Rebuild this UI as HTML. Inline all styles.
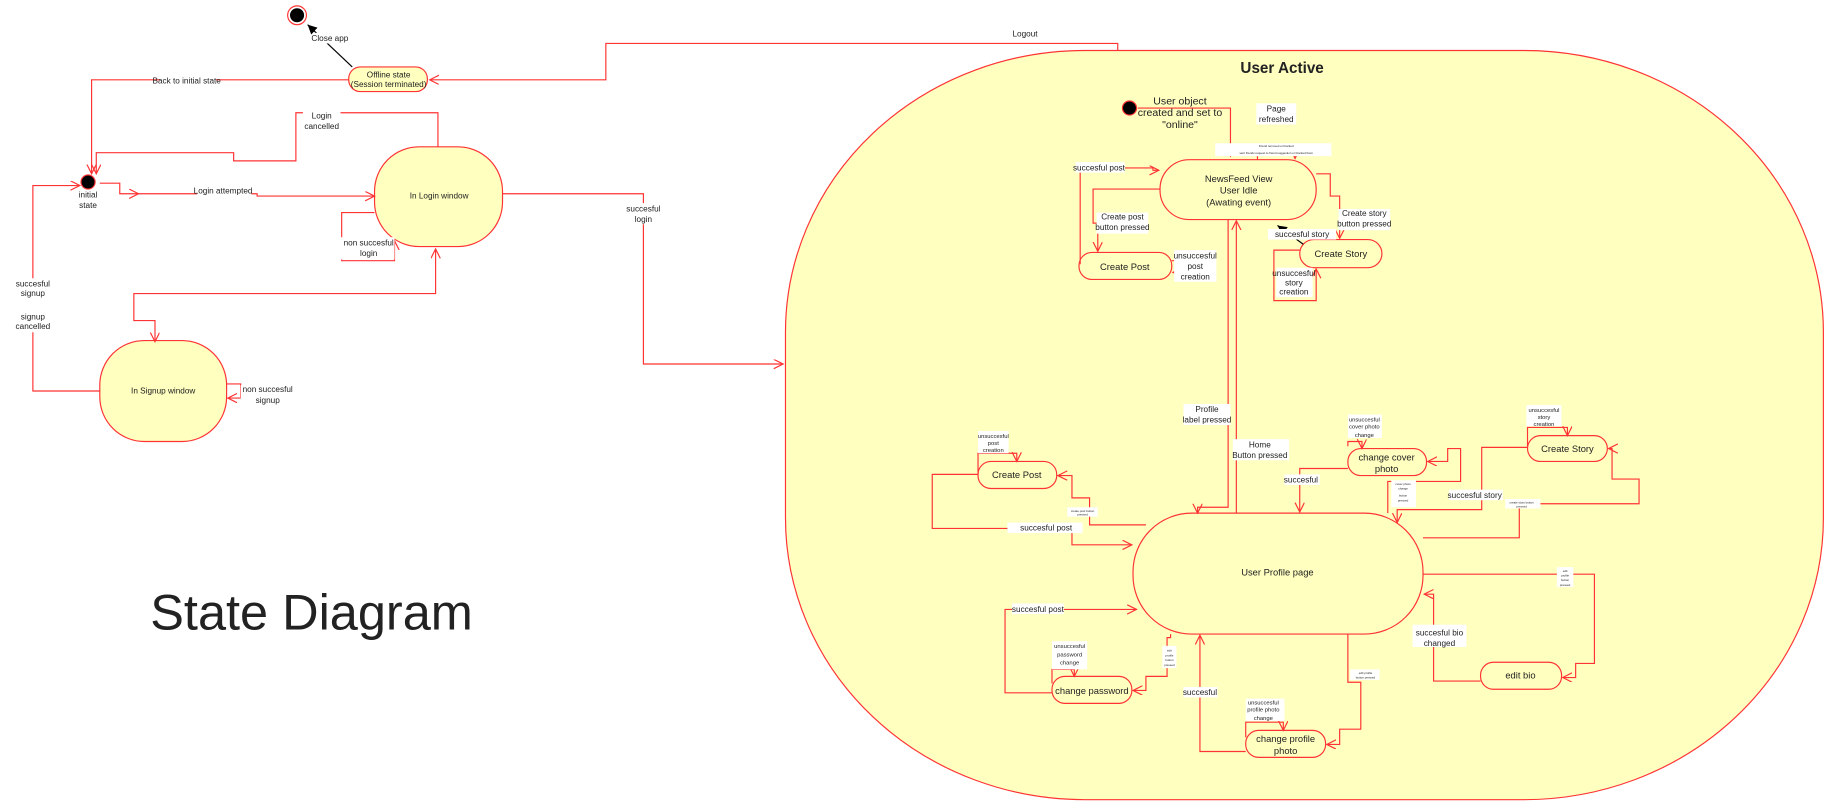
<!DOCTYPE html>
<html><head><meta charset="utf-8"><style>
html,body{margin:0;padding:0;background:#fff;width:1841px;height:802px;overflow:hidden}
svg{display:block}
text{font-family:"Liberation Sans",sans-serif;fill:#222}
</style></head><body>
<svg width="1841" height="802" viewBox="0 0 1568 683" preserveAspectRatio="none">
<defs>
<marker id="a" markerUnits="userSpaceOnUse" markerWidth="10" markerHeight="10" refX="8" refY="4" orient="auto"><path d="M0,0 L8,4 L0,8" fill="none" stroke="#f33" stroke-width="1"/></marker>
<marker id="b" markerUnits="userSpaceOnUse" markerWidth="10" markerHeight="10" refX="8" refY="4" orient="auto"><path d="M0,0 L8,4 L0,8 Z" fill="#000"/></marker>
</defs>
<g fill="none" stroke="#f33" stroke-width="1">
<rect x="669" y="43" width="884" height="638" rx="255" ry="240" fill="#ffffc0" stroke="#f33"/>
</g>
<text x="1092" y="62" font-size="13" font-weight="bold" text-anchor="middle">User Active</text>
<text x="128" y="536" font-size="43">State Diagram</text>

<circle cx="253" cy="13" r="8" fill="#fff" stroke="#f33"/>
<circle cx="253" cy="13" r="6" fill="#000"/>
<line x1="300" y1="57" x2="262" y2="21" stroke="#000" marker-end="url(#b)"/>
<rect x="268" y="28" width="26" height="9" fill="#fff"/>
<text x="281" y="35" font-size="7" text-anchor="middle">Close app</text>

<g fill="#ffffc0" stroke="#f33">
<rect x="297" y="57" width="67" height="21" rx="10"/>
<rect x="319" y="125" width="109" height="85" rx="38"/>
<rect x="85" y="290" width="108" height="86" rx="38"/>
<rect x="919" y="215" width="79" height="23" rx="11"/>
<rect x="988" y="136" width="133" height="51" rx="25"/>
<rect x="1107" y="204" width="70" height="24" rx="12"/>
<rect x="965" y="437" width="247" height="103" rx="50"/>
<rect x="833" y="393" width="67" height="23" rx="11"/>
<rect x="1148" y="382" width="67" height="23" rx="11"/>
<rect x="1301" y="371" width="68" height="22" rx="11"/>
<rect x="1261" y="564" width="69" height="23" rx="11"/>
<rect x="896" y="576" width="68" height="23" rx="11"/>
<rect x="1061" y="622" width="68" height="23" rx="11"/>
</g>
<circle cx="75" cy="155" r="6" fill="#000" stroke="#f33"/>
<circle cx="962" cy="92" r="6" fill="#000" stroke="#f33"/>

<g fill="none" stroke="#f33" stroke-width="1" marker-end="url(#a)">
<polyline points="952,43 952,37 516,37 516,68 366,68"/>
<polyline points="297,68 78,68 78,148"/>
<polyline points="373,125 373,96 252,96 252,137 199,137 199,130 82,130 82,148"/>
<polyline points="85,156 102,156 102,165 118,165"/>
<polyline points="118,165 219,165 219,167 319,167"/>
<polyline points="319,181 291,181 291,222 336,222 336,205"/>
<polyline points="114,256 114,250 371,250 371,212"/>
<polyline points="114,256 114,273 132,273 132,291"/>
<polyline points="193,327 205,327 205,339 194,339"/>
<polyline points="85,333 28,333 28,158 68,158"/>
<polyline points="428,165 548,165 548,310 667,310"/>
<polyline points="969,92 1048,92 1048,133"/>
<polyline points="1071,136 1071,124 1103,124 1103,135"/>
<polyline points="920,225 920,143 982,143 982,145 987,145"/>
<polyline points="988,161 931,161 931,190 935,190 935,214"/>
<polyline points="998,222 1010,222 1010,232 999,232"/>
<polyline points="1121,148 1133,148 1133,167 1141,167 1141,203"/>
<polyline points="1107,213 1085,213 1085,256 1121,256 1121,229"/>
<polyline points="1046,187 1046,432 1020,432 1020,437"/>
<polyline points="1053,437 1053,188"/>
<polyline points="833,404 833,386 866,386 866,393"/>
<polyline points="976,447 928,447 928,424 913,424 913,405 901,405"/>
<polyline points="833,404 794,404 794,450 913,450 913,464 964,464"/>
<polyline points="1148,380 1148,376 1160,376 1160,382" />
<polyline points="1148,399 1107,399 1107,436"/>
<polyline points="1182,437 1182,410 1244,410 1244,382 1233,382 1233,393 1216,393"/>
<polyline points="1301,380 1301,364 1335,364 1335,371"/>
<polyline points="1301,381 1262,381 1262,434 1190,434 1190,445"/>
<polyline points="1212,458 1294,458 1294,429 1396,429 1396,408 1373,408 1373,382 1370,382"/>
<polyline points="1212,489 1358,489 1358,565 1342,565 1342,577 1331,577"/>
<polyline points="1261,580 1221,580 1221,506 1213,506"/>
<polyline points="896,590 856,590 856,519 968,519"/>
<polyline points="896,582 896,570 915,570 915,576"/>
<polyline points="997,540 997,543 994,543 994,576 976,576 976,588 965,588"/>
<polyline points="1061,640 1022,640 1022,541"/>
<polyline points="1148,540 1148,581 1159,581 1159,621 1141,621 1141,634 1130,634"/>
<polyline points="1061,628 1061,615 1093,615 1093,622"/>
</g>
<line x1="1110" y1="208" x2="1088" y2="192" stroke="#000" marker-end="url(#b)"/>

<g fill="#fff">
<rect x="845" y="24" width="56" height="10"/>
<rect x="136" y="64" width="48" height="8"/>
<rect x="258" y="95" width="32" height="18"/>
<rect x="168" y="159" width="46" height="8"/>
<rect x="290" y="202" width="46" height="19"/>
<rect x="530" y="173" width="36" height="18"/>
<rect x="12" y="237" width="32" height="46"/>
<rect x="205" y="328" width="46" height="18"/>
<rect x="1070" y="88" width="34" height="18"/>
<rect x="1035" y="122" width="99" height="11" />
<rect x="916" y="138" width="42" height="9"/>
<rect x="934" y="181" width="44" height="18"/>
<rect x="1000" y="213" width="36" height="27"/>
<rect x="1140" y="178" width="44" height="18"/>
<rect x="1080" y="195" width="58" height="9"/>
<rect x="1087" y="228" width="31" height="25"/>
<rect x="1008" y="344" width="40" height="18"/>
<rect x="1050" y="374" width="48" height="18"/>
<rect x="833" y="367" width="26" height="19"/>
<rect x="909" y="432" width="26" height="8"/>
<rect x="858" y="445" width="64" height="9"/>
<rect x="1148" y="353" width="29" height="20"/>
<rect x="1094" y="404" width="30" height="9"/>
<rect x="1185" y="409" width="21" height="23"/>
<rect x="1300" y="345" width="30" height="18"/>
<rect x="1234" y="417" width="46" height="9"/>
<rect x="1282" y="425" width="30" height="8"/>
<rect x="1326" y="483" width="14" height="17"/>
<rect x="1203" y="532" width="46" height="19"/>
<rect x="862" y="514" width="44" height="9"/>
<rect x="896" y="546" width="30" height="24"/>
<rect x="990" y="550" width="12" height="19"/>
<rect x="1008" y="585" width="29" height="9"/>
<rect x="1150" y="570" width="25" height="9"/>
<rect x="1061" y="595" width="33" height="19"/>
</g>

<g font-size="7" text-anchor="middle">
<text x="331" y="66">Offline state</text>
<text x="331" y="74">(Session terminated)</text>
<text x="873" y="31">Logout</text>
<text x="159" y="71">Back to initial state</text>
<text x="274" y="101">Login</text><text x="274" y="110">cancelled</text>
<text x="75" y="168">initial</text><text x="75" y="177">state</text>
<text x="190" y="165">Login attempted</text>
<text x="374" y="169">In Login window</text>
<text x="314" y="209">non succesful</text><text x="314" y="218">login</text>
<text x="548" y="180">succesful</text><text x="548" y="189">login</text>
<text x="28" y="244">succesful</text><text x="28" y="252">signup</text>
<text x="28" y="272">signup</text><text x="28" y="280">cancelled</text>
<text x="139" y="335">In Signup window</text>
<text x="228" y="334">non succesful</text><text x="228" y="343">signup</text>

<text x="1005" y="89" font-size="9">User object</text>
<text x="1005" y="99" font-size="9">created and set to</text>
<text x="1005" y="109" font-size="9">"online"</text>
<text x="1087" y="95">Page</text><text x="1087" y="104">refreshed</text>
<text x="1087" y="125" font-size="2.5">Friend removed or blocked</text>
<text x="1087" y="131" font-size="2.5">sent friends request to friend suggestion or blocked them</text>
<text x="1055" y="155" font-size="8">NewsFeed View</text>
<text x="1055" y="165" font-size="8">User Idle</text>
<text x="1055" y="175" font-size="8">(Awating event)</text>
<text x="936" y="145">succesful post</text>
<text x="956" y="187">Create post</text><text x="956" y="196">button pressed</text>
<text x="958" y="230" font-size="8">Create Post</text>
<text x="1018" y="220">unsuccesful</text><text x="1018" y="229">post</text><text x="1018" y="238">creation</text>
<text x="1162" y="184">Create story</text><text x="1162" y="193">button pressed</text>
<text x="1109" y="202">succesful story</text>
<text x="1142" y="219" font-size="8">Create Story</text>
<text x="1102" y="235">unsuccesful</text><text x="1102" y="243">story</text><text x="1102" y="251">creation</text>
<text x="1028" y="351">Profile</text><text x="1028" y="360">label pressed</text>
<text x="1073" y="381">Home</text><text x="1073" y="390">Button pressed</text>
<text x="1088" y="490" font-size="8">User Profile page</text>
<text x="866" y="407" font-size="8">Create Post</text>
<text x="846" y="373" font-size="5">unsuccesful</text><text x="846" y="379" font-size="5">post</text><text x="846" y="385" font-size="5">creation</text>
<text x="922" y="436" font-size="2.5">create post button</text><text x="922" y="439" font-size="2.5">pressed</text>
<text x="891" y="452">succesful post</text>
<text x="1181" y="392" font-size="8">change cover</text><text x="1181" y="402" font-size="8">photo</text>
<text x="1162" y="359" font-size="5">unsuccesful</text><text x="1162" y="365" font-size="5">cover photo</text><text x="1162" y="372" font-size="5">change</text>
<text x="1108" y="411">succesful</text>
<text x="1195" y="413" font-size="2.5">cover photo</text><text x="1195" y="417" font-size="2.5">change</text><text x="1195" y="423" font-size="2.5">button</text><text x="1195" y="427" font-size="2.5">pressed</text>
<text x="1335" y="385" font-size="8">Create Story</text>
<text x="1315" y="351" font-size="5">unsuccesful</text><text x="1315" y="357" font-size="5">story</text><text x="1315" y="363" font-size="5">creation</text>
<text x="1256" y="424">succesful story</text>
<text x="1296" y="429" font-size="2.5">create story button</text><text x="1296" y="432" font-size="2.5">pressed</text>
<text x="1333" y="487" font-size="2.5">edit</text><text x="1333" y="491" font-size="2.5">profile</text><text x="1333" y="495" font-size="2.5">button</text><text x="1333" y="499" font-size="2.5">pressed</text>
<text x="1295" y="578" font-size="8">edit bio</text>
<text x="1226" y="541">succesful bio</text><text x="1226" y="550">changed</text>
<text x="884" y="521">succesful post</text>
<text x="930" y="591" font-size="8">change password</text>
<text x="911" y="552" font-size="5">unsuccesful</text><text x="911" y="559" font-size="5">password</text><text x="911" y="566" font-size="5">change</text>
<text x="996" y="555" font-size="2.5">edit</text><text x="996" y="559" font-size="2.5">profile</text><text x="996" y="563" font-size="2.5">button</text><text x="996" y="567" font-size="2.5">pressed</text>
<text x="1022" y="592">succesful</text>
<text x="1095" y="632" font-size="8">change profile</text><text x="1095" y="642" font-size="8">photo</text>
<text x="1076" y="600" font-size="5">unsuccesful</text><text x="1076" y="606" font-size="5">profile photo</text><text x="1076" y="613" font-size="5">change</text>
<text x="1163" y="574" font-size="2.5">edit profile</text><text x="1163" y="578" font-size="2.5">button pressed</text>
</g>
</svg>
</body></html>
